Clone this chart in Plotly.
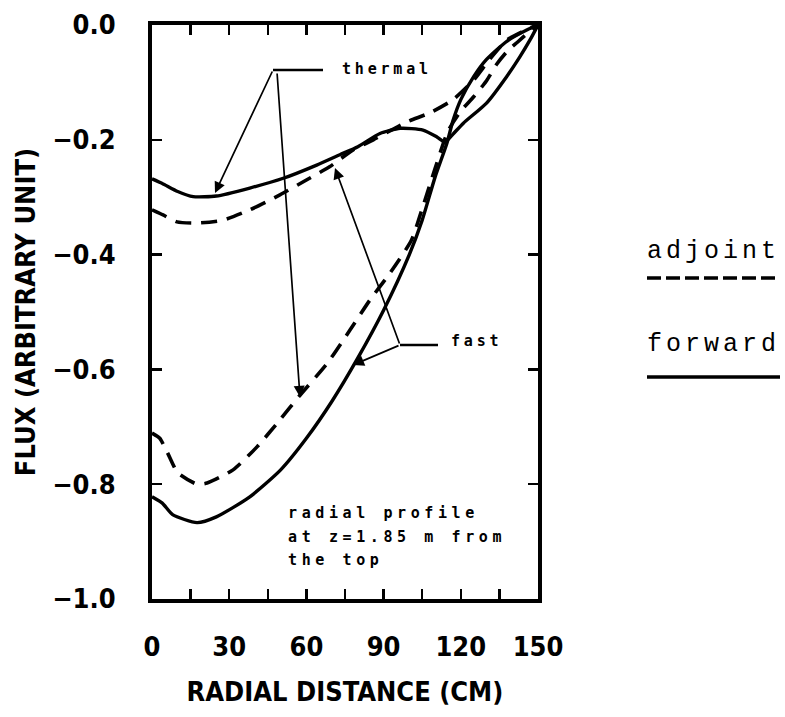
import plotly.graph_objects as go

# ---- data ----
x_thermal_fwd = [0, 4, 10, 16, 25, 38, 51, 64, 73, 80, 88.6, 96.4, 105.3, 110.7, 113.9, 117, 121, 130, 137.8, 143, 146.9, 150]
y_thermal_fwd = [-0.268, -0.276, -0.29, -0.299, -0.298, -0.284, -0.267, -0.244, -0.226, -0.212, -0.189, -0.180, -0.183, -0.195, -0.204, -0.19, -0.171, -0.136, -0.09, -0.055, -0.026, 0.0]

x_thermal_adj = [0, 4.3, 9.7, 17.5, 27.6, 38, 49.7, 60, 69, 78, 86, 99, 108, 117, 125, 131, 138, 147, 150]
y_thermal_adj = [-0.322, -0.331, -0.343, -0.345, -0.34, -0.322, -0.296, -0.27, -0.247, -0.218, -0.2, -0.169, -0.153, -0.13, -0.096, -0.061, -0.026, -0.005, 0.0]

x_fast_fwd = [0, 4, 8, 17.5, 25, 38, 50, 60, 70, 80, 90, 100, 105, 110, 114.6, 117, 120, 125, 130, 138, 146, 150]
y_fast_fwd = [-0.822, -0.833, -0.853, -0.867, -0.857, -0.822, -0.775, -0.72, -0.655, -0.58, -0.497, -0.40, -0.34, -0.265, -0.206, -0.166, -0.13, -0.09, -0.06, -0.028, -0.008, 0.0]

x_fast_adj = [0, 3, 6, 10, 17.5, 21.4, 31.5, 40.8, 49.7, 57.5, 68, 77, 84.7, 92.5, 100.8, 105, 110, 115, 120, 125, 130, 134, 138, 142, 146, 150]
y_fast_adj = [-0.711, -0.72, -0.745, -0.78, -0.80, -0.798, -0.775, -0.735, -0.688, -0.645, -0.59, -0.531, -0.479, -0.432, -0.375, -0.32, -0.25, -0.185, -0.15, -0.125, -0.097, -0.068, -0.046, -0.03, -0.014, 0.0]

x_tickvals = [0, 15, 30, 45, 60, 75, 90, 105, 120, 135, 150]
x_ticktext = ["0", "", "30", "", "60", "", "90", "", "120", "", "150"]
y_tickvals = [0.0, -0.2, -0.4, -0.6, -0.8, -1.0]
y_ticktext = ["0.0", "\u22120.2", "\u22120.4", "\u22120.6", "\u22120.8", "\u22121.0"]

W, H = 785, 717
L, R, T, B = 152, 538, 25, 599

fig = go.Figure()
solid = dict(color="black", width=3.4)
dashed = dict(color="black", width=3.6, dash="16px,10px")
for xs, ys, ln in [(x_thermal_fwd, y_thermal_fwd, solid),
                   (x_thermal_adj, y_thermal_adj, dashed),
                   (x_fast_fwd, y_fast_fwd, solid),
                   (x_fast_adj, y_fast_adj, dashed)]:
    fig.add_trace(go.Scatter(x=xs, y=ys, mode="lines", line=dict(shape="spline", smoothing=0.6, **ln),
                             showlegend=False, hoverinfo="skip"))

tickfont = dict(family="DejaVu Sans Condensed", size=27, color="black", weight="bold")
titlefont = dict(family="DejaVu Sans Condensed", size=27, color="black", weight="bold")

fig.update_layout(
    width=W, height=H,
    margin=dict(l=L, r=W - R, t=T, b=H - B, autoexpand=False),
    paper_bgcolor="white", plot_bgcolor="white",
    showlegend=False,
    xaxis=dict(range=[0, 150], tickmode="array", tickvals=x_tickvals, ticktext=x_ticktext,
               ticks="inside", ticklen=10, tickwidth=2.5, tickcolor="black",
               showline=True, linewidth=4, linecolor="black", mirror="ticks",
               showgrid=False, zeroline=False, tickfont=tickfont, ticklabelstandoff=21,
               automargin=False,
               title=dict(text="RADIAL DISTANCE (CM)", font=titlefont, standoff=22)),
    yaxis=dict(range=[-1.0, 0.0], tickmode="array", tickvals=y_tickvals, ticktext=y_ticktext,
               ticks="inside", ticklen=10, tickwidth=2.5, tickcolor="black",
               showline=True, linewidth=4, linecolor="black", mirror="ticks",
               showgrid=False, zeroline=False, tickfont=tickfont, ticklabelstandoff=27,
               automargin=False,
               title=dict(text="FLUX (ARBITRARY UNIT)", font=titlefont, standoff=10)),
)

def px2x(px):
    return (px - L) / (R - L) * 150.0

def py2y(py):
    return -(py - T) / (B - T)

lblfont = dict(family="DejaVu Sans Mono", size=15, color="black", weight="bold")

def spaced(t, sp):
    return "<span style='letter-spacing:%.1fpx'>%s</span>" % (sp, t)

arrows = [
    ((273, 70), (215, 193)),
    ((277, 72), (300, 397)),
    ((400, 345), (353, 365)),
    ((400, 345), (335, 168)),
]
for (tx, ty), (hx, hy) in arrows:
    fig.add_annotation(x=px2x(hx), y=py2y(hy), ax=px2x(tx), ay=py2y(ty), xref="x", yref="y",
                       axref="x", ayref="y", text="", showarrow=True, arrowhead=2, arrowsize=1.3,
                       arrowwidth=1.7, arrowcolor="black")
fig.add_shape(type="line", x0=px2x(273), x1=px2x(323), y0=py2y(70), y1=py2y(70),
              line=dict(color="black", width=2.4), xref="x", yref="y")
fig.add_shape(type="line", x0=px2x(400), x1=px2x(438), y0=py2y(345), y1=py2y(345),
              line=dict(color="black", width=2.4), xref="x", yref="y")
fig.add_annotation(x=px2x(340), y=py2y(69), text=spaced("thermal", 3.8), showarrow=False,
                   xanchor="left", yanchor="middle", font=lblfont)
fig.add_annotation(x=px2x(449), y=py2y(341), text=spaced("fast", 3.8), showarrow=False,
                   xanchor="left", yanchor="middle", font=lblfont)
for i, line in enumerate(["radial profile", "at z=1.85 m from", "the top"]):
    fig.add_annotation(x=px2x(286), y=py2y(513 + i * 23.5), text=spaced(line, 4.6), showarrow=False,
                       xanchor="left", yanchor="middle", font=lblfont)

legfont = dict(family="Liberation Mono", size=25, color="black")
def pxp(px):
    return (px - L) / (R - L)
def pyp(py):
    return (B - py) / (B - T)
fig.add_annotation(x=pxp(645), y=pyp(251), xref="paper", yref="paper", text=spaced("adjoint", 4.0),
                   showarrow=False, xanchor="left", yanchor="middle", font=legfont)
fig.add_annotation(x=pxp(645), y=pyp(344), xref="paper", yref="paper", text=spaced("forward", 4.0),
                   showarrow=False, xanchor="left", yanchor="middle", font=legfont)
fig.add_shape(type="line", xref="paper", yref="paper", x0=pxp(647), x1=pxp(778), y0=pyp(278), y1=pyp(278),
              line=dict(color="black", width=3.5, dash="14px,5px"))
fig.add_shape(type="line", xref="paper", yref="paper", x0=pxp(647), x1=pxp(780), y0=pyp(377), y1=pyp(377),
              line=dict(color="black", width=3.5))

fig.write_html("out.html", config={"displayModeBar": False, "staticPlot": True},
               post_script="document.body.style.margin='0px';document.body.style.overflow='hidden';")
